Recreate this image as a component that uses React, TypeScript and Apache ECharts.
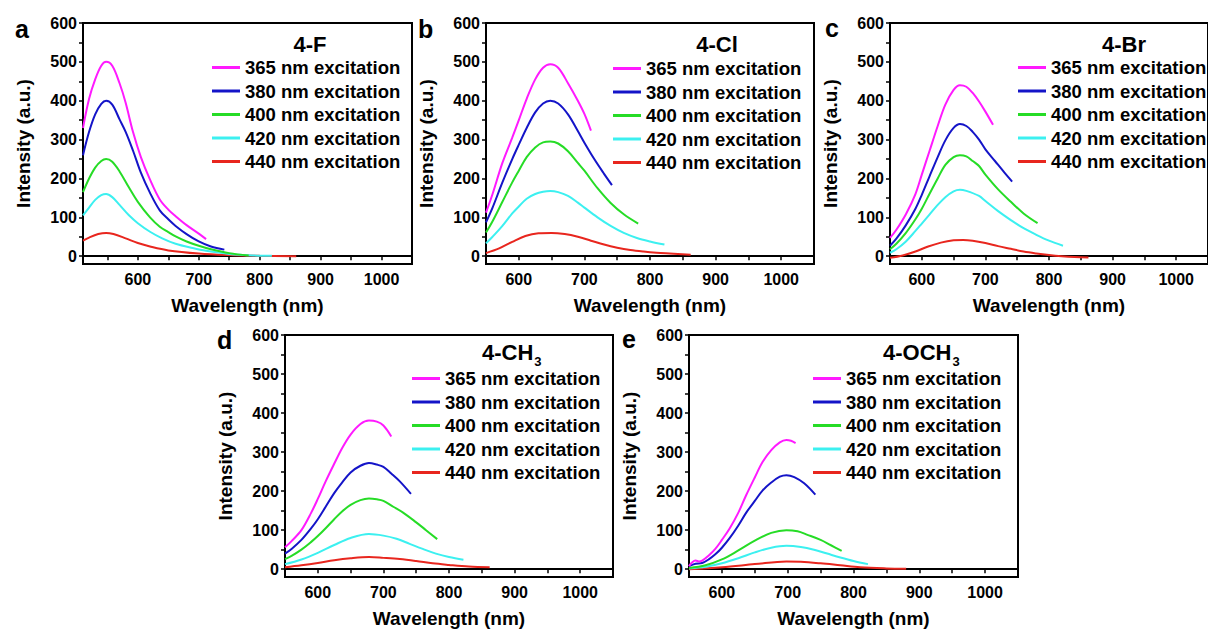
import React, { useEffect, useRef } from "react";
import * as echarts from "echarts";

const EXCITATIONS = ["365 nm excitation", "380 nm excitation", "400 nm excitation", "420 nm excitation", "440 nm excitation"];
const COLORS = ["#ff1aff", "#1414c8", "#26dc26", "#3cf0f0", "#e8261e"];
const PANEL_LETTERS = ["a", "b", "c", "d", "e"];
const COMPOUNDS = ["4-F", "4-Cl", "4-Br", "4-CH", "4-OCH"];
const COMPOUND_SUBS = ["", "", "", "3", "3"];
const X_LABELS = [600, 700, 800, 900, 1000];
const X_TICKS = [550, 600, 650, 700, 750, 800, 850, 900, 950, 1000, 1050];
const Y_LABELS = [0, 100, 200, 300, 400, 500, 600];
const Y_TICKS = [0, 50, 100, 150, 200, 250, 300, 350, 400, 450, 500, 550, 600];
const X_MIN = [510, 550, 550, 550, 550];
const X_MAX = 1050;
const Y_MIN = -20;
const Y_MAX = 600;

// 4-F
const F_365 = [[510,330],[520,405],[530,455],[540,490],[548,500],[558,490],[570,445],[580,395],[592,320],[605,255],[620,197],[636,146],[650,120],[662,103],[680,80],[700,58],[712,44]];
const F_380 = [[510,260],[520,320],[530,365],[540,392],[548,400],[558,390],[570,352],[580,320],[592,272],[605,215],[620,163],[636,118],[650,95],[662,78],[680,57],[700,38],[720,25],[742,17]];
const F_400 = [[510,165],[520,200],[530,228],[540,245],[548,250],[558,243],[570,218],[585,178],[600,140],[620,100],[636,76],[650,62],[662,51],[680,38],[700,27],[720,18],[750,8],[782,2]];
const F_420 = [[510,105],[520,125],[530,145],[540,157],[548,160],[558,152],[570,132],[585,106],[600,85],[620,63],[640,46],[662,32],[690,21],[712,14],[750,6],[790,2],[820,1]];
const F_440 = [[510,40],[520,48],[535,57],[548,60],[560,57],[580,46],[600,34],[620,25],[650,15],[700,7],[750,3],[800,1],[860,0]];

// 4-Cl
const CL_365 = [[550,112],[560,160],[575,240],[590,305],[600,350],[612,405],[625,455],[637,485],[648,494],[660,485],[675,445],[690,400],[700,366],[710,323]];
const CL_380 = [[550,87],[560,125],[575,190],[590,250],[600,287],[612,330],[625,370],[637,393],[648,400],[660,393],[675,365],[690,322],[700,292],[715,250],[730,212],[742,183]];
const CL_400 = [[550,61],[560,90],[575,140],[590,190],[600,220],[612,255],[625,280],[637,293],[648,295],[660,290],[675,270],[690,240],[700,220],[720,175],[740,137],[760,108],[782,84]];
const CL_420 = [[550,33],[560,50],[575,78],[590,110],[600,128],[612,148],[625,160],[637,166],[648,168],[660,165],[675,155],[690,138],[700,125],[720,100],[740,78],[760,60],[780,47],[800,38],[822,30]];
const CL_440 = [[550,8],[570,20],[590,37],[610,52],[630,59],[650,60],[670,57],[690,50],[710,40],[730,30],[750,22],[770,16],[790,12],[810,9],[830,7],[862,4]];

// 4-Br
const BR_365 = [[550,47],[560,68],[575,108],[590,160],[600,210],[612,270],[625,335],[637,390],[650,428],[660,440],[670,436],[680,420],[690,398],[700,372],[712,338]];
const BR_380 = [[550,27],[560,45],[575,80],[590,122],[600,158],[612,205],[625,255],[637,298],[650,330],[660,340],[670,335],[680,320],[690,300],[700,275],[715,245],[730,215],[742,192]];
const BR_400 = [[550,18],[560,32],[575,60],[590,95],[600,122],[612,160],[625,200],[637,235],[650,255],[660,260],[670,257],[680,245],[690,232],[700,210],[720,172],[740,140],[760,110],[782,85]];
const BR_420 = [[550,9],[560,18],[575,38],[590,65],[600,84],[612,107],[625,132],[637,152],[650,167],[660,171],[670,168],[690,155],[700,142],[720,116],[740,93],[760,72],[780,55],[800,40],[822,27]];
const BR_440 = [[550,-4],[570,2],[590,12],[610,25],[630,35],[650,41],[665,42],[680,40],[700,34],[720,26],[740,19],[760,12],[780,7],[800,3],[820,0],[840,-2],[862,-3]];

// 4-CH3
const CH3_365 = [[550,56],[560,72],[575,100],[590,145],[600,180],[612,225],[625,270],[637,310],[650,345],[665,372],[678,381],[690,378],[700,368],[712,340]];
const CH3_380 = [[550,40],[560,52],[575,75],[590,105],[600,128],[612,160],[625,195],[637,222],[650,248],[665,265],[678,272],[690,268],[700,262],[712,245],[725,225],[742,193]];
const CH3_400 = [[550,26],[560,34],[575,50],[590,70],[600,85],[612,105],[625,128],[637,148],[650,165],[665,177],[678,181],[690,179],[700,175],[715,160],[730,145],[750,120],[765,100],[782,77]];
const CH3_420 = [[550,13],[575,25],[600,42],[625,62],[650,80],[678,90],[700,86],[720,78],[740,65],[760,52],[780,40],[800,31],[822,24]];
const CH3_440 = [[550,5],[575,10],[600,16],[625,23],[650,28],[678,31],[700,29],[725,26],[750,21],[775,15],[800,11],[830,7],[862,5]];

// 4-OCH3
const OCH3_365 = [[550,8],[555,18],[560,22],[565,20],[570,22],[580,35],[590,52],[600,75],[612,105],[625,145],[637,190],[650,235],[662,275],[675,305],[688,325],[698,331],[705,329],[712,323]];
const OCH3_380 = [[550,8],[560,14],[570,16],[580,25],[590,38],[600,55],[612,80],[625,112],[637,145],[650,175],[662,202],[675,222],[688,237],[698,241],[710,236],[725,220],[742,191]];
const OCH3_400 = [[550,3],[575,10],[600,25],[625,48],[650,73],[675,93],[698,100],[715,97],[730,88],[750,75],[765,62],[782,47]];
const OCH3_420 = [[550,2],[575,6],[600,15],[625,28],[650,43],[675,55],[698,60],[720,57],[740,50],[760,40],[780,30],[800,21],[822,13]];
const OCH3_440 = [[550,0],[600,5],[650,13],[698,20],[720,19],[750,15],[780,10],[810,5],[850,2],[880,1]];

const PANEL_DATA = [
  [F_365, F_380, F_400, F_420, F_440],
  [CL_365, CL_380, CL_400, CL_420, CL_440],
  [BR_365, BR_380, BR_400, BR_420, BR_440],
  [CH3_365, CH3_380, CH3_400, CH3_420, CH3_440],
  [OCH3_365, OCH3_380, OCH3_400, OCH3_420, OCH3_440],
];

// layout (pixels)
const GRIDS = [
  { left: 83, top: 23, width: 329, height: 241 },
  { left: 486, top: 23, width: 328, height: 241 },
  { left: 890, top: 23, width: 330, height: 241 },
  { left: 285, top: 335, width: 328, height: 242 },
  { left: 689, top: 335, width: 329, height: 242 },
];
const LEGEND_POS = [
  { left: 212, top: 58 },
  { left: 613, top: 59 },
  { left: 1018, top: 58 },
  { left: 412, top: 369 },
  { left: 813, top: 369 },
];
const TITLE_POS = [
  { x: 310, y: 44, align: "center" },
  { x: 717, y: 44, align: "center" },
  { x: 1124, y: 44, align: "center" },
  { x: 482, y: 352, align: "left" },
  { x: 883, y: 352, align: "left" },
];
const LETTER_POS = [
  { x: 15, y: 29 },
  { x: 418, y: 29 },
  { x: 825, y: 28 },
  { x: 217, y: 340 },
  { x: 622, y: 339 },
];

const FONT = "'Liberation Sans', Arial, sans-serif";

export default function App() {
  const ref = useRef<HTMLDivElement>(null);
  useEffect(() => {
    if (!ref.current) return;
    const chart = echarts.init(ref.current, undefined, { renderer: "svg" });

    const grid = GRIDS.map((g) => ({
      ...g,
      show: true,
      borderColor: "#000",
      borderWidth: 2,
      backgroundColor: "transparent",
      containLabel: false,
    }));

    const xAxis = GRIDS.map((_, i) => ({
      type: "value",
      gridIndex: i,
      min: X_MIN[i],
      max: X_MAX,
      name: "Wavelength (nm)",
      nameLocation: "middle",
      nameGap: 32,
      nameTextStyle: { fontSize: 19, fontWeight: "bold", fontFamily: FONT, color: "#000" },
      axisLine: { show: true, lineStyle: { color: "#000", width: 2 } },
      axisTick: {
        show: true,
        inside: false,
        length: 4,
        customValues: X_TICKS.filter((v) => v >= X_MIN[i]),
        lineStyle: { color: "#000", width: 1.5 },
      },
      axisLabel: {
        customValues: X_LABELS,
        fontSize: 16,
        fontWeight: "bold",
        fontFamily: FONT,
        color: "#000",
        margin: 7,
        formatter: (v: number) => (v % 100 === 0 && v >= 600 && v <= 1000 ? String(v) : ""),
      },
      splitLine: { show: false },
    }));

    const yAxis = GRIDS.map((_, i) => ({
      type: "value",
      gridIndex: i,
      min: Y_MIN,
      max: Y_MAX,
      name: "Intensity (a.u.)",
      nameLocation: "middle",
      nameGap: 50,
      nameRotate: 90,
      nameTextStyle: { fontSize: 19, fontWeight: "bold", fontFamily: FONT, color: "#000" },
      axisLine: { show: true, lineStyle: { color: "#000", width: 2 } },
      axisTick: {
        show: true,
        inside: false,
        length: 4,
        customValues: Y_TICKS,
        lineStyle: { color: "#000", width: 1.5 },
      },
      axisLabel: {
        customValues: Y_LABELS,
        fontSize: 16,
        fontWeight: "bold",
        fontFamily: FONT,
        color: "#000",
        margin: 6,
        formatter: (v: number) => (v >= 0 && v % 100 === 0 ? String(v) : ""),
      },
      splitLine: { show: false },
    }));

    const series: any[] = [];
    PANEL_DATA.forEach((panel, i) => {
      panel.forEach((data, k) => {
        series.push({
          type: "line",
          name: EXCITATIONS[k],
          xAxisIndex: i,
          yAxisIndex: i,
          data,
          showSymbol: false,
          smooth: 0.35,
          color: COLORS[k],
          lineStyle: { color: COLORS[k], width: 2 },
          clip: true,
          z: 5 - k,
        });
      });
    });

    const legend = LEGEND_POS.map((p) => ({
      orient: "vertical",
      left: p.left,
      top: p.top,
      itemWidth: 28,
      itemHeight: 3,
      itemGap: 4.5,
      icon: "rect",
      selectedMode: false,
      padding: 0,
      data: EXCITATIONS,
      textStyle: { fontSize: 18.5, fontWeight: "bold", fontFamily: FONT, color: "#000", lineHeight: 19 },
    }));

    const graphic: any[] = [];
    LETTER_POS.forEach((p, i) => {
      graphic.push({
        type: "text",
        x: p.x,
        y: p.y,
        style: {
          text: PANEL_LETTERS[i],
          font: `bold 25px ${FONT}`,
          fill: "#000",
          textAlign: "left",
          textVerticalAlign: "middle",
        },
      });
    });
    TITLE_POS.forEach((p, i) => {
      graphic.push({
        type: "text",
        x: p.x,
        y: p.y,
        style: {
          text: COMPOUNDS[i],
          font: `bold 22px ${FONT}`,
          fill: "#000",
          textAlign: p.align,
          textVerticalAlign: "middle",
        },
      });
      if (COMPOUND_SUBS[i]) {
        const w = (echarts as any).format && (echarts as any).format.getTextRect
          ? (echarts as any).format.getTextRect(COMPOUNDS[i], `bold 22px ${FONT}`).width
          : 50;
        graphic.push({
          type: "text",
          x: p.x + w + 1,
          y: p.y + 9,
          style: {
            text: COMPOUND_SUBS[i],
            font: `bold 13px ${FONT}`,
            fill: "#000",
            textAlign: "left",
            textVerticalAlign: "middle",
          },
        });
      }
    });

    chart.setOption({
      animation: false,
      backgroundColor: "#fff",
      grid,
      xAxis,
      yAxis,
      legend,
      series,
      graphic,
    });

    return () => chart.dispose();
  }, []);

  return (
    <div
      ref={ref}
      style={{ position: "absolute", left: 0, top: 0, width: 1208, height: 632 }}
    />
  );
}
